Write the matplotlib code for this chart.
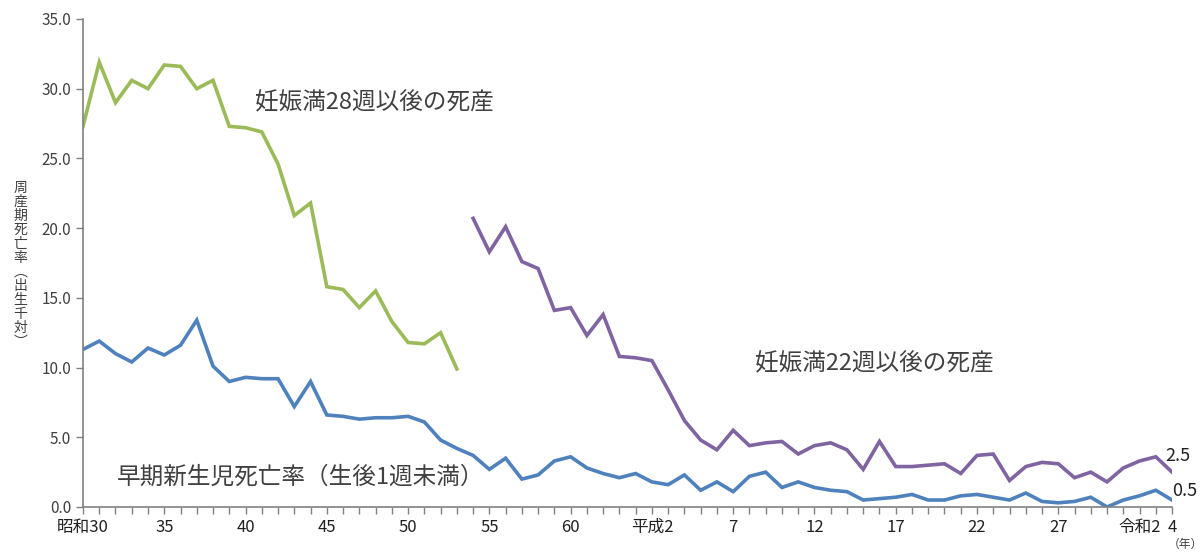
import numpy as np
import matplotlib
matplotlib.use("Agg")
import matplotlib.pyplot as plt

plt.rcParams['font.family'] = ['Noto Sans CJK JP', 'DejaVu Sans']

# late fetal deaths, 28 weeks and over (1955-1978)
years_28w = list(range(1955, 1979))
stillbirth_28w = [27.3, 31.9, 29.0, 30.6, 30.0, 31.7, 31.6, 30.0, 30.6, 27.3,
                  27.2, 26.9, 24.6, 20.9, 21.8, 15.8, 15.6, 14.3, 15.5, 13.3,
                  11.8, 11.7, 12.5, 9.9]

# late fetal deaths, 22 weeks and over (1979-2022)
years_22w = list(range(1979, 2023))
stillbirth_22w = [20.7, 18.3, 20.1, 17.6, 17.1, 14.1, 14.3, 12.3, 13.8, 10.8,
                  10.7, 10.5, 8.4, 6.2, 4.8, 4.1, 5.5, 4.4, 4.6, 4.7,
                  3.8, 4.4, 4.6, 4.1, 2.7, 4.7, 2.9, 2.9, 3.0, 3.1,
                  2.4, 3.7, 3.8, 1.9, 2.9, 3.2, 3.1, 2.1, 2.5, 1.8,
                  2.8, 3.3, 3.6, 2.5]

# early neonatal deaths (1955-2022)
years_neo = list(range(1955, 2023))
early_neonatal = [11.3, 11.9, 11.0, 10.4, 11.4, 10.9, 11.6, 13.4, 10.1, 9.0,
                  9.3, 9.2, 9.2, 7.2, 9.0, 6.6, 6.5, 6.3, 6.4, 6.4,
                  6.5, 6.1, 4.8, 4.2, 3.7, 2.7, 3.5, 2.0, 2.3, 3.3,
                  3.6, 2.8, 2.4, 2.1, 2.4, 1.8, 1.6, 2.3, 1.2, 1.8,
                  1.1, 2.2, 2.5, 1.4, 1.8, 1.4, 1.2, 1.1, 0.5, 0.6,
                  0.7, 0.9, 0.5, 0.5, 0.8, 0.9, 0.7, 0.5, 1.0, 0.4,
                  0.3, 0.4, 0.7, 0.0, 0.5, 0.8, 1.2, 0.5]

tick_years = [1955, 1960, 1965, 1970, 1975, 1980, 1985, 1990, 1995, 2000,
              2005, 2010, 2015, 2020, 2022]
tick_labels = ['昭和30', '35', '40', '45', '50', '55', '60', '平成2', '7', '12',
               '17', '22', '27', '令和2', '4']

green = '#9BBB59'
blue = '#4F81BD'
purple = '#8064A2'
text_col = '#404040'

fig = plt.figure(figsize=(12.01, 5.55), dpi=100)
ax = fig.add_axes([0.0691, 0.0865, 0.9068, 0.8793])

ax.plot(years_28w, stillbirth_28w, color=green, lw=2.6, solid_joinstyle='miter')
ax.plot(years_22w, stillbirth_22w, color=purple, lw=2.6, solid_joinstyle='miter')
ax.plot(years_neo, early_neonatal, color=blue, lw=2.6, solid_joinstyle='miter')

ax.set_xlim(1955, 2022)
ax.set_ylim(0, 35)
ax.set_yticks(np.arange(0, 35.1, 5))
ax.set_yticklabels([f'{v:.1f}' for v in np.arange(0, 35.1, 5)], fontsize=11, color=text_col)
ax.set_xticks(range(1955, 2023), minor=True)
ax.set_xticks(tick_years)
ax.set_xticklabels(tick_labels, fontsize=12, color='#202020')
ax.tick_params(axis='x', which='both', length=5, color='#808080', width=1)
ax.tick_params(axis='y', length=5, color='#808080', width=1)

for side in ['top', 'right']:
    ax.spines[side].set_visible(False)
for side in ['left', 'bottom']:
    ax.spines[side].set_color('#808080')
    ax.spines[side].set_linewidth(1.2)

ax.text(1965.6, 29.0, '妊娠満28週以後の死産', fontsize=17, color=text_col, va='center')
ax.text(1996.35, 10.3, '妊娠満22週以後の死産', fontsize=17, color=text_col, va='center')
ax.text(1957.1, 2.15, '早期新生児死亡率（生後1週未満）', fontsize=17, color=text_col, va='center')
ax.text(2021.6, 3.65, '2.5', fontsize=13, color='#202020', va='center')
ax.text(2022.0, 1.15, '0.5', fontsize=13, color='#202020', va='center')

fig.text(0.987, 0.008, '（年）', fontsize=8.5, color=text_col, ha='center', va='bottom')
fig.text(0.017, 0.5225, '\n'.join('周産期死亡率︵出生千対︶'), fontsize=10, color=text_col,
         ha='center', va='center', linespacing=1.0)

fig.savefig('out.png', dpi=100)
